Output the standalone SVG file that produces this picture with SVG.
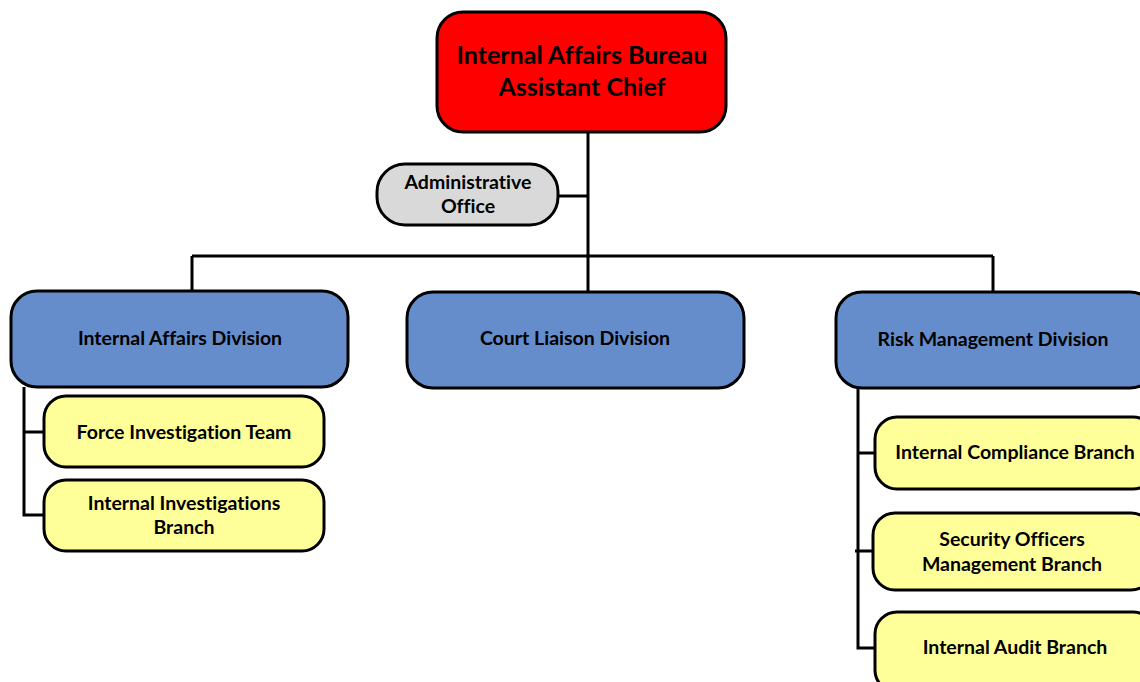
<svg xmlns="http://www.w3.org/2000/svg" width="1140" height="682" viewBox="0 0 1140 682">
<style>
.box{stroke:#000;stroke-width:3}
.red{fill:#FF0000}
.gray{fill:#D9D9D9}
.blue{fill:#658CCB}
.yel{fill:#FFFF99}
text{font-family:"Lato","Open Sans","Liberation Sans",sans-serif;font-weight:bold;fill:#000;text-anchor:middle;font-variant-ligatures:none}
.t1{font-size:25px}
.t2{font-size:19.5px}
.ln{stroke:#000;stroke-width:3;fill:none}
</style>
<rect width="1140" height="682" fill="#fff"/>
<g id="connectors">
<path class="ln" d="M588 132V291"/>
<path class="ln" d="M558 196H588"/>
<path class="ln" d="M192 256H993"/>
<path class="ln" d="M192 256V291"/>
<path class="ln" d="M993 256V292"/>
<path class="ln" d="M24 387V515H44"/>
<path class="ln" d="M24 432H44"/>
<path class="ln" d="M858 388V648H875"/>
<path class="ln" d="M858 453H875"/>
<path class="ln" d="M855 551H873"/>
</g>
<g id="chief">
<rect class="box red" x="437" y="12" width="289" height="120" rx="26"/>
<text class="t1" x="582" y="64">Internal Affairs Bureau</text>
<text class="t1" x="582" y="96">Assistant Chief</text>
</g>
<g id="admin">
<rect class="box gray" x="377" y="164" width="181" height="61" rx="28"/>
<text class="t2" x="468" y="189">Administrative</text>
<text class="t2" x="468" y="213">Office</text>
</g>
<g id="iad">
<rect class="box blue" x="11" y="291" width="337" height="96" rx="26"/>
<text class="t2" x="180" y="345">Internal Affairs Division</text>
</g>
<g id="cld">
<rect class="box blue" x="407" y="292" width="337" height="96" rx="26"/>
<text class="t2" x="575" y="345">Court Liaison Division</text>
</g>
<g id="rmd">
<rect class="box blue" x="836" y="292" width="320" height="96" rx="26"/>
<text class="t2" x="993" y="346">Risk Management Division</text>
</g>
<g id="fit">
<rect class="box yel" x="44" y="396" width="280" height="71" rx="22"/>
<text class="t2" x="184" y="439">Force Investigation Team</text>
</g>
<g id="iib">
<rect class="box yel" x="44" y="480" width="280" height="71" rx="22"/>
<text class="t2" x="184" y="510">Internal Investigations</text>
<text class="t2" x="184" y="534">Branch</text>
</g>
<g id="icb">
<rect class="box yel" x="875" y="417" width="280" height="72" rx="22"/>
<text class="t2" x="1015" y="459">Internal Compliance Branch</text>
</g>
<g id="somb">
<rect class="box yel" x="873" y="513" width="280" height="77" rx="22"/>
<text class="t2" x="1012" y="546">Security Officers</text>
<text class="t2" x="1012" y="571">Management Branch</text>
</g>
<g id="iab">
<rect class="box yel" x="875" y="612" width="280" height="80" rx="22"/>
<text class="t2" x="1015" y="654">Internal Audit Branch</text>
</g>
</svg>
